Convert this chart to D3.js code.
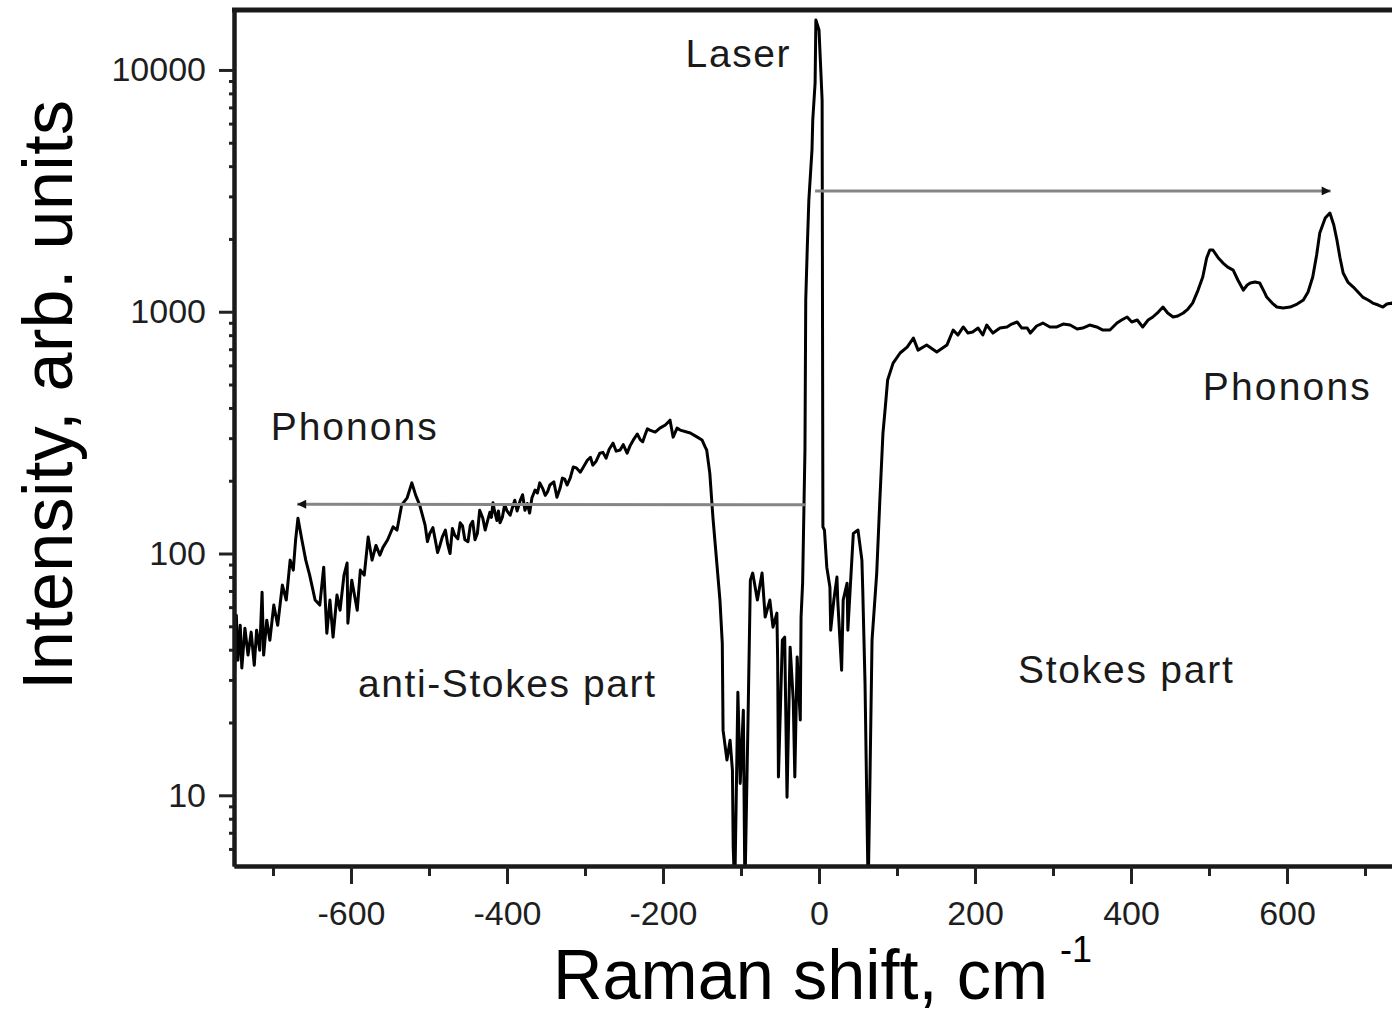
<!DOCTYPE html>
<html>
<head>
<meta charset="utf-8">
<script src="https://cdn.jsdelivr.net/npm/d3@7"></script>
<style>
  body { margin: 0; background: #fff; }
  text { font-family: "Liberation Sans", Arial, sans-serif; }
</style>
</head>
<body>
<div id="chart"></div>
<script>
// spectrum: Raman shift (cm-1) and intensity (arb. units)
const ramanShift = [
  -750,-747,-745,-742,-740,-736,-732,-728,-724,-721,
  -717,-714,-712,-708,-704,-699,-694,-688,-683,-678,
  -674,-671,-668,-663,-658,-653,-646,-640,-635,-631,
  -627,-623,-618,-614,-609,-605,-604,-599,-592,-588,
  -583,-578,-573,-568,-563,-559,-553,-546,-541,-535,
  -528,-522,-517,-512,-505,-502,-499,-495,-492,-489,
  -486,-483,-479,-476,-473,-470,-467,-463,-460,-457,
  -454,-450,-447,-444,-441,-438,-435,-431,-428,-425,
  -422,-420,-418,-416,-413,-411,-409,-406,-403,-400,
  -396,-393,-390,-387,-383,-380,-377,-374,-371,-368,
  -364,-361,-358,-354,-351,-348,-345,-340,-336,-332,
  -329,-326,-323,-319,-315,-311,-306,-302,-297,-293,
  -290,-286,-281,-277,-273,-269,-264,-260,-255,-251,
  -246,-242,-238,-233,-229,-226,-223,-220,-217,-210,
  -204,-197,-191,
  -187,-182,-178,-165,-156,-150,-146,-144,-140,-136,
  -131,-127,-124,-123,-118,-114,-111,-110,-108,-104,
  -101,-97,-95,-91,-88,-85,-79,-73,-69,-63,
  -59,-54,-53,-52,-47,-44,-41,-37,-33,-31,
  -28,-24,-23,-21,-18,-17,-15,-13,-9,-8,
  -5,-4,0,4,5,7,10,14,15,19,
  23,24,29,31,36,37,44,50,55,56,
  59,63,65,68,74,78,82,85,88,95,
  104,113,121,127,138,151,164,172,178,185,
  191,197,204,210,215,223,232,241,247,254,
  260,267,271,279,287,296,305,313,322,331,
  338,347,356,364,373,382,388,395,401,408,
  415,422,428,435,441,447,454,460,467,473,
  479,486,492,497,501,505,512,518,524,531,
  537,544,549,553,559,565,571,574,581,587,
  595,604,613,621,627,633,638,642,649,655,
  660,664,668,672,678,685,691,697,704,710,
  717,723,728,735,745
]
const intensity = [
  27.2,55.6,36.2,50.5,33.6,49.1,38.0,47.3,34.5,48.2,
  39.8,69.2,38.0,53.0,43.8,61.2,50.5,74.0,64.2,93.9,
  85.4,114,140,114,93.9,81.4,64.2,61.2,87.8,46.8,
  64.2,45.1,67.3,58.3,81.4,91.3,51.5,77.6,58.3,85.4,
  81.4,117,93.9,108,98.5,106,114,129,125,159,
  170,196,174,159,131,112,121,128,114,101,
  108,117,125,109,100,127,119,115,134,130,
  114,112,131,136,114,121,151,140,125,136,
  148,141,162,150,137,150,134,141,159,150,
  144,155,166,150,166,175,151,161,147,170,
  183,178,196,185,174,180,192,198,171,186,
  205,203,192,205,228,226,217,228,243,250,
  232,240,260,262,248,270,286,265,268,282,
  260,280,295,312,295,290,309,328,324,318,
  330,340,356,
  303,330,324,315,303,295,276,268,215,141,
  91.3,64.2,42.6,18.6,14.0,16.9,12.7,6.1,4,26.7,
  11.2,22.5,4,20.5,77.6,83.0,64.2,83.0,54.6,64.2,
  49.6,56.7,36.2,11.9,43.8,45.1,9.82,41.0,24.7,11.9,
  37.3,20.5,54.6,75.4,268,1118,1852,2898,4667,6210,
  8830,16100,14640,7510,129,125,87.8,72.6,48.2,64.2,
  79.9,64.2,32.9,64.2,75.4,48.2,121,125,93.9,72.6,
  29.1,4,9.82,43.8,83.0,166,315,403,522,613,
  675,714,778,694,728,681,728,840,801,865,
  816,824,856,801,881,816,856,865,889,907,
  856,856,816,873,898,865,865,889,881,848,
  856,881,865,840,840,898,924,951,907,924,
  865,924,951,997,1046,988,951,960,988,1026,
  1086,1229,1392,1668,1800,1800,1668,1590,1530,1487,
  1353,1229,1290,1315,1327,1315,1206,1150,1086,1046,
  1036,1046,1076,1118,1206,1392,1716,2117,2442,2561,
  2284,1980,1668,1446,1327,1265,1206,1150,1118,1086,
  1066,1046,1076,1086,1066
]

const yTickLabels = [10, 100, 1000, 10000]
const xTickLabels = [-600, -400, -200, 0, 200, 400, 600]

// arrows (start, tip) in data units
const arrowStart = [[-18, 159], [-5, 3160]]
const arrowTip = [[-669, 160], [656, 3160]]

// text notes, anchored at their left baseline
const noteText = ['Laser', 'Phonons', 'Phonons', 'anti-Stokes part', 'Stokes part']
const noteShift = [-171, -703, 492, -591, 255]
const noteIntensity = [10300, 295, 431, 25.5, 29.1]
const noteWidth = [104, 166, 167, 297, 215]

const width = 1392
const height = 1013
const plotLeft = 234, plotRight = 1404, plotTop = 10, plotBottom = 866

const svg = d3.select('#chart')
    .append('svg')
    .attr('width', width)
    .attr('height', height)

const x = d3.scaleLinear().domain([-750, 750]).range([plotLeft, plotRight])
const y = d3.scaleLog().domain([5.1, 17700]).range([plotBottom, plotTop])

svg.append('clipPath').attr('id', 'plot-clip')
    .append('rect')
    .attr('x', plotLeft).attr('y', plotTop)
    .attr('width', plotRight - plotLeft).attr('height', plotBottom - plotTop)

// spectrum
const points = ramanShift.map((s, i) => [s, intensity[i]])
const line = d3.line()
    .x(d => x(d[0]))
    .y(d => y(d[1]))

svg.append('path')
    .datum(points)
    .attr('clip-path', 'url(#plot-clip)')
    .attr('d', line)
    .attr('fill', 'none')
    .attr('stroke', '#000')
    .attr('stroke-width', 3)
    .attr('stroke-linejoin', 'round')

// arrows
svg.append('defs').append('marker')
    .attr('id', 'head')
    .attr('viewBox', '0 0 10 10')
    .attr('refX', 10).attr('refY', 5)
    .attr('markerUnits', 'userSpaceOnUse')
    .attr('markerWidth', 18).attr('markerHeight', 9)
    .attr('orient', 'auto')
    .append('path')
    .attr('d', 'M0,0L10,5L0,10Z')
    .attr('fill', '#111')

arrowStart.forEach((a, i) => {
    svg.append('line')
        .attr('x1', x(a[0])).attr('y1', y(a[1]))
        .attr('x2', x(arrowTip[i][0])).attr('y2', y(arrowTip[i][1]))
        .attr('stroke', '#858585')
        .attr('stroke-width', 3)
        .attr('marker-end', 'url(#head)')
})

// axes
const minorY = y.ticks().filter(t => !yTickLabels.includes(Math.round(t)))
const minorX = x.ticks(15).filter(t => !xTickLabels.includes(t))
const plain = d => String(d)

const styleAxis = g => {
    g.select('.domain').attr('stroke', '#1a1a1a').attr('stroke-width', 4)
    g.selectAll('.tick line').attr('stroke', '#222').attr('stroke-width', 3)
    g.selectAll('.tick text').attr('fill', '#1e1e1e').style('font-size', '34px')
}

svg.append('g')
    .attr('transform', `translate(${plotLeft},0)`)
    .call(d3.axisLeft(y).tickValues(minorY).tickSize(5).tickSizeOuter(0).tickFormat(''))
    .call(styleAxis)

svg.append('g')
    .attr('transform', `translate(${plotLeft},0)`)
    .call(d3.axisLeft(y).tickValues(yTickLabels).tickSize(15).tickSizeOuter(0)
        .tickPadding(13).tickFormat(plain))
    .call(styleAxis)

svg.append('g')
    .attr('transform', `translate(0,${plotBottom})`)
    .call(d3.axisBottom(x).tickValues(minorX).tickSize(10).tickSizeOuter(0).tickFormat(''))
    .call(styleAxis)

svg.append('g')
    .attr('transform', `translate(0,${plotBottom})`)
    .call(d3.axisBottom(x).tickValues(xTickLabels).tickSize(18).tickSizeOuter(0)
        .tickPadding(17).tickFormat(plain))
    .call(styleAxis)

// top frame
svg.append('line')
    .attr('x1', plotLeft - 2).attr('x2', plotRight)
    .attr('y1', plotTop).attr('y2', plotTop)
    .attr('stroke', '#1a1a1a')
    .attr('stroke-width', 5)

// notes
noteText.forEach((t, i) => {
    svg.append('text')
        .attr('x', x(noteShift[i]))
        .attr('y', y(noteIntensity[i]))
        .attr('fill', '#1a1a1a')
        .attr('textLength', noteWidth[i])
        .attr('lengthAdjust', 'spacing')
        .style('font-size', '39px')
        .text(t)
})

// axis titles
svg.append('text')
    .attr('transform', 'translate(72,395) rotate(-90)')
    .attr('text-anchor', 'middle')
    .attr('fill', '#000')
    .attr('textLength', 590)
    .attr('lengthAdjust', 'spacing')
    .style('font-size', '70px')
    .text('Intensity, arb. units')

svg.append('text')
    .attr('x', 553).attr('y', 999)
    .attr('fill', '#000')
    .attr('textLength', 495)
    .attr('lengthAdjust', 'spacingAndGlyphs')
    .style('font-size', '70px')
    .text('Raman shift, cm')

svg.append('text')
    .attr('x', 1060).attr('y', 962)
    .attr('fill', '#000')
    .style('font-size', '36px')
    .text('-1')
</script>
</body>
</html>
